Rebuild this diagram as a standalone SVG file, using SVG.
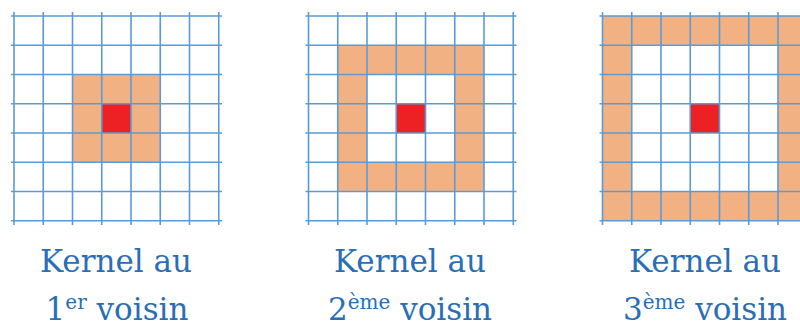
<svg xmlns="http://www.w3.org/2000/svg" width="800" height="323" viewBox="0 0 800 323">
<style>
.grid{fill:none;stroke:#5b9bd5;stroke-width:1.6}
.or{fill:#f2b183;fill-rule:evenodd}
.rd{fill:#ed2024}
.lbl{font-family:"DejaVu Serif","Liberation Serif",serif;font-size:31px;fill:#2a6fb5;text-anchor:middle}
.sup{font-size:20px}
</style>
<defs>
<path id="g" d="M0 -4V209M29.25 -4V209M58.5 -4V209M87.75 -4V209M117 -4V209M146.25 -4V209M175.5 -4V209M204.75 -4V209M-3 0H208M-3 29.25H208M-3 58.5H208M-3 87.75H208M-3 117H208M-3 146.25H208M-3 175.5H208M-3 204.75H208"/>
</defs>
<rect width="800" height="323" fill="#fff"/>
<g id="kernel1" transform="translate(14,16)">
<rect class="or" x="58.5" y="58.5" width="87.75" height="87.75"/>
<rect class="rd" x="87.75" y="87.75" width="29.25" height="29.25"/>
<use href="#g" class="grid"/>
</g>
<g id="kernel2" transform="translate(308.5,16)">
<path class="or" d="M29.25 29.25H175.5V175.5H29.25ZM58.5 58.5V146.25H146.25V58.5Z"/>
<rect class="rd" x="87.75" y="87.75" width="29.25" height="29.25"/>
<use href="#g" class="grid"/>
</g>
<g id="kernel3" transform="translate(602.5,16)">
<path class="or" d="M0 0H204.75V204.75H0ZM29.25 29.25V175.5H175.5V29.25Z"/>
<rect class="rd" x="87.75" y="87.75" width="29.25" height="29.25"/>
<use href="#g" class="grid"/>
</g>
<g id="label1">
<text class="lbl" x="116" y="272">Kernel au</text>
<text class="lbl" x="117" y="320">1<tspan class="sup" dy="-11">er</tspan><tspan dy="11"> voisin</tspan></text>
</g>
<g id="label2">
<text class="lbl" x="410" y="272">Kernel au</text>
<text class="lbl" x="410" y="320">2<tspan class="sup" dy="-11">ème</tspan><tspan dy="11"> voisin</tspan></text>
</g>
<g id="label3">
<text class="lbl" x="705" y="272">Kernel au</text>
<text class="lbl" x="705" y="320">3<tspan class="sup" dy="-11">ème</tspan><tspan dy="11"> voisin</tspan></text>
</g>
</svg>
